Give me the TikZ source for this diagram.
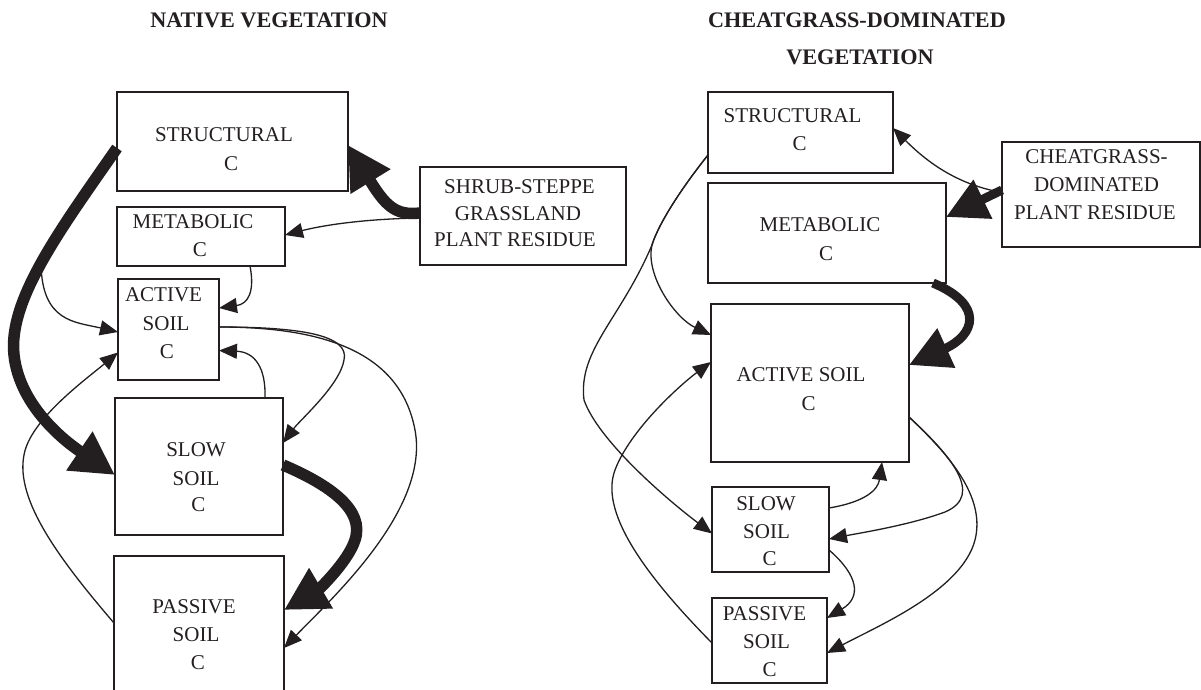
\documentclass[tikz,border=0pt]{standalone}
\usepackage{fontspec}
\setmainfont{Liberation Serif}
\usetikzlibrary{arrows.meta,calc}
\definecolor{ink}{RGB}{35,31,32}
\begin{document}
\begin{tikzpicture}[x=1pt,y=-1pt,
  box/.style={draw=ink, line width=1.4pt, inner sep=0pt, outer sep=0pt},
  lbl/.style={inner sep=0pt, outer sep=0pt, text=ink, font=\fontsize{21}{25}\selectfont},
  ttl/.style={inner sep=0pt, outer sep=0pt, text=ink, font=\fontsize{22.2}{26}\selectfont\bfseries},
  thin/.style={draw=ink, line width=1.3pt, -{Triangle[length=18pt,width=15pt]}},
  thickL/.style={draw=ink, line width=11.5pt, -{Triangle[length=43pt,width=44pt]}},
  thickR/.style={draw=ink, line width=9pt, -{Triangle[length=41pt,width=41pt]}}]
\useasboundingbox (0,0) rectangle (1201,690);
\fill[white] (0,0) rectangle (1201,690);

% titles
\node[ttl] (t1) at (269,20.5) {NATIVE VEGETATION};
\node[ttl] (t2) at (857,20.5) {CHEATGRASS-DOMINATED};
\node[ttl] (t3) at (860,57) {VEGETATION};

% left boxes
\node[box, minimum width=231pt, minimum height=99pt] (sL) at (232.5,141.5) {};
\node[box, minimum width=168pt, minimum height=59pt] (mL) at (201,236.5) {};
\node[box, minimum width=101pt, minimum height=101pt] (aL) at (168.5,329.5) {};
\node[box, minimum width=168pt, minimum height=137pt] (wL) at (199,466.5) {};
\node[box, minimum width=170pt, minimum height=144pt] (pL) at (199,628) {};
\node[box, minimum width=206pt, minimum height=98pt] (rL) at (523,216) {};

% right boxes
\node[box, minimum width=185pt, minimum height=81pt] (sR) at (800.5,132.5) {};
\node[box, minimum width=238pt, minimum height=100pt] (mR) at (827,233) {};
\node[box, minimum width=198pt, minimum height=158pt] (aR) at (810,383) {};
\node[box, minimum width=117pt, minimum height=85pt] (wR) at (770.5,529.5) {};
\node[box, minimum width=115pt, minimum height=85pt] (pR) at (769.5,640.5) {};
\node[box, minimum width=198pt, minimum height=105pt] (rR) at (1101,194.5) {};

% left connectors
\coordinate (bL) at (41,264);
\draw[thickL] ($(sL.west)+(0,6.5)$) .. controls (60,230) and (8,300) .. (14,355)
      .. controls (20,410) and (72,446) .. ($(wL.west)+(0,8.5)$);
\draw[thin] (bL) .. controls (42,322) and (75,322) .. ($(aL.west)+(0,2.5)$);
\draw[thin] ($(rL.west)+(0,2)$) .. controls (360,219) and (320,226) .. ($(mL.east)+(0,-1.5)$);
\draw[thickL] ($(rL.west)+(0,-3)$) .. controls (395,216) and (385,205) .. ($(sL.east)+(0,3.5)$);
\draw[thin] ($(mL.south)+(49,0)$) .. controls (255,292) and (248,304) .. ($(aL.east)+(0,-21.5)$);
\draw[thin] ($(pL.west)+(0,-5)$) .. controls (60,560) and (15,500) .. (24,455)
      .. controls (30,420) and (85,380) .. ($(aL.west)+(0,23)$);
\draw[thin] ($(wL.north)+(66,0)$) .. controls (266,368) and (255,352) .. ($(aL.east)+(0,21)$);
\draw[thin] ($(aL.east)+(0,-2.5)$) .. controls (300,327) and (350,335) .. (344,360)
      .. controls (340,385) and (300,420) .. ($(wL.east)+(0,-23.5)$);
\draw[thin] ($(aL.east)+(0,-2.5)$) .. controls (320,327) and (400,350) .. (415,430)
      .. controls (430,510) and (330,600) .. ($(pL.east)+(0,20)$);
\draw[thickL] ($(wL.east)+(0,-1.5)$) .. controls (330,485) and (365,510) .. (355,540)
      .. controls (348,562) and (318,590) .. ($(pL.east)+(0,-18)$);

% right connectors
\coordinate (jR) at (652,245);
\draw[thin] ($(rR.west)+(0,-2)$) .. controls (960,185) and (930,165) .. ($(sR.east)+(0,-4.5)$);
\draw[thickR] ($(rR.west)+(0,-4.5)$) -- ($(mR.east)+(0,-16)$);
\draw[thickR] ($(mR.south east)+(-13,0)$) .. controls (985,305) and (975,335) .. ($(aR.east)+(0,-18)$);
\draw[thin] ($(sR.west)+(0,22.5)$) .. controls (680,190) and (658,225) .. (jR)
      .. controls (645,275) and (675,318) .. ($(aR.west)+(0,-48)$);
\draw[thin] ($(sR.west)+(0,22.5)$) .. controls (680,190) and (658,225) .. (jR)
      .. controls (620,320) and (578,350) .. (584,400)
      .. controls (598,440) and (665,498) .. ($(wR.west)+(0,4)$);
\draw[thin] ($(pR.west)+(0,2.5)$) .. controls (640,570) and (600,510) .. (615,470)
      .. controls (630,430) and (680,385) .. ($(aR.west)+(0,-21)$);
\draw[thin] ($(wR.east)+(0,-21.5)$) .. controls (865,502) and (878,490) .. ($(aR.south)+(72,0)$);
\draw[thin] ($(aR.east)+(0,34)$) .. controls (950,455) and (985,495) .. (945,512)
      .. controls (910,525) and (860,533) .. ($(wR.east)+(0,9.5)$);
\draw[thin] ($(aR.east)+(0,34)$) .. controls (955,460) and (985,500) .. (975,540)
      .. controls (962,590) and (880,625) .. ($(pR.east)+(0,12.5)$);
\draw[thin] ($(wR.east)+(0,20.5)$) .. controls (858,575) and (862,597) .. ($(pR.east)+(0,-22.5)$);

% left labels
\node[lbl] (sLa) at (224,135) {STRUCTURAL};
\node[lbl] (sLb) at (231,163.5) {C};
\node[lbl] (mLa) at (193,221.5) {METABOLIC};
\node[lbl] (mLb) at (200,250) {C};
\node[lbl] (aLa) at (163.5,295) {ACTIVE};
\node[lbl] (aLb) at (166,323.5) {SOIL};
\node[lbl] (aLc) at (167,351.5) {C};
\node[lbl] (wLa) at (196,450) {SLOW};
\node[lbl] (wLb) at (196,478.5) {SOIL};
\node[lbl] (wLc) at (198.5,505) {C};
\node[lbl] (pLa) at (194,607) {PASSIVE};
\node[lbl] (pLb) at (196,635) {SOIL};
\node[lbl] (pLc) at (198,663) {C};
\node[lbl] (rLa) at (519.5,186.5) {SHRUB-STEPPE};
\node[lbl] (rLb) at (518,213.5) {GRASSLAND};
\node[lbl] (rLc) at (515,240) {PLANT RESIDUE};

% right labels
\node[lbl] (sRa) at (792.5,115.5) {STRUCTURAL};
\node[lbl] (sRb) at (799.5,144) {C};
\node[lbl] (mRa) at (820,225) {METABOLIC};
\node[lbl] (mRb) at (826,253.5) {C};
\node[lbl] (aRa) at (801,375) {ACTIVE SOIL};
\node[lbl] (aRb) at (808.5,403.5) {C};
\node[lbl] (wRa) at (766,503.5) {SLOW};
\node[lbl] (wRb) at (766.5,531.5) {SOIL};
\node[lbl] (wRc) at (769.5,558.5) {C};
\node[lbl] (pRa) at (764.5,613.5) {PASSIVE};
\node[lbl] (pRb) at (766.5,641.5) {SOIL};
\node[lbl] (pRc) at (769.5,670) {C};
\node[lbl] (rRa) at (1096.5,157) {CHEATGRASS-};
\node[lbl] (rRb) at (1096.5,185) {DOMINATED};
\node[lbl] (rRc) at (1095,213) {PLANT RESIDUE};
\end{tikzpicture}
\end{document}
